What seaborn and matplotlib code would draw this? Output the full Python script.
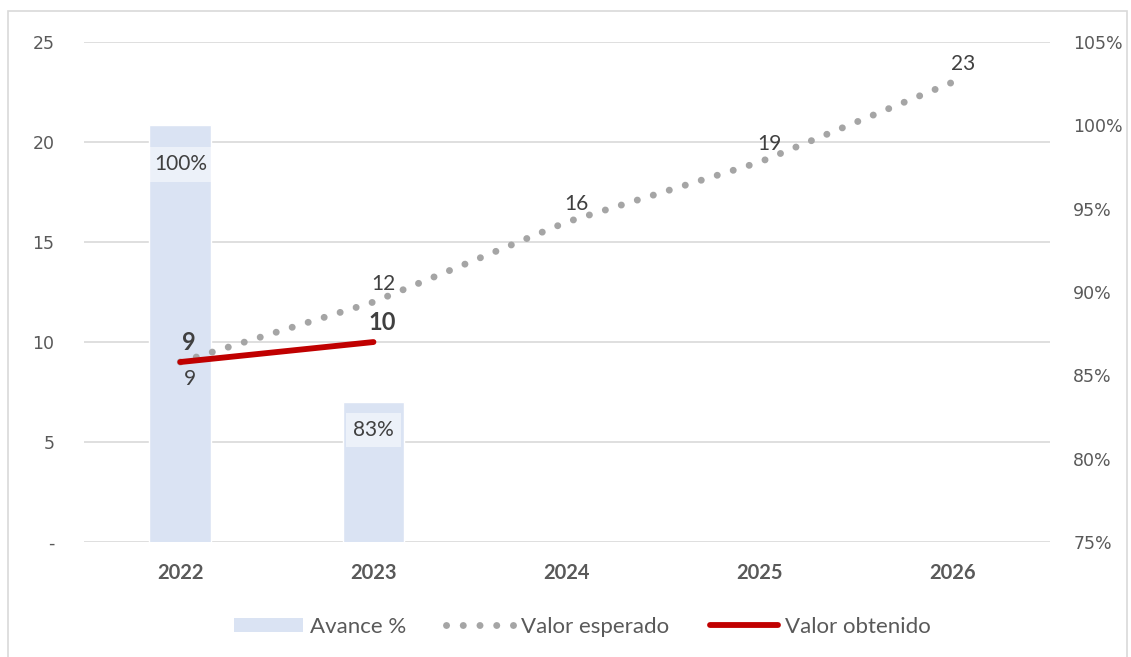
import numpy as np
import pandas as pd
import matplotlib
matplotlib.use("Agg")
import matplotlib.pyplot as plt
import seaborn as sns
from matplotlib.lines import Line2D
from matplotlib.patches import Patch, Rectangle
from matplotlib.ticker import FuncFormatter, PercentFormatter

# datos
anios = ["2022", "2023", "2024", "2025", "2026"]
valor_esperado = [9, 12, 16, 19, 23]
valor_obtenido = [9, 10]
avance = [1.00, 0.834]
etiquetas_esperado = ["9", "12", "16", "19", "23"]
etiquetas_obtenido = ["9", "10"]
etiquetas_avance = ["100%", "83%"]

sns.set_theme(style="white")
plt.rcParams["font.family"] = ["Lato", "DejaVu Sans"]

GRIS_TXT = "#595959"
AZUL_BARRA = "#dae3f3"
GRIS_LINEA = "#a5a5a5"
ROJO = "#c00000"
PUNTEADO = (0, (0.01, 2.4))

fig = plt.figure(figsize=(11.31, 6.57), dpi=100)
ax1 = fig.add_axes([0.074, 0.175, 0.854, 0.761])
ax2 = ax1.twinx()
ax3 = ax1.twinx()

# eje izquierdo (solo grilla y ticks)
ax1.set_xlim(-0.5, len(anios) - 0.5)
ax1.set_ylim(0, 25)
ax1.set_yticks(range(0, 26, 5))
ax1.yaxis.set_major_formatter(FuncFormatter(lambda v, p: "-" if v == 0 else f"{v:.0f}"))
ax1.grid(axis="y", color="#d9d9d9", linewidth=1.2)
ax1.grid(axis="x", visible=False)
ax1.set_xticks(range(len(anios)))
ax1.set_xticklabels(anios, fontweight="bold", fontsize=14.5, color=GRIS_TXT)
ax1.tick_params(axis="y", labelsize=12.5, colors=GRIS_TXT, length=0, pad=21)
ax1.tick_params(axis="x", length=0, pad=15)
for lab in ax1.get_yticklabels():
    lab.set_fontfamily("DejaVu Sans")
ax1.set_facecolor("none")

# barras de avance (eje derecho)
df_bar = pd.DataFrame({"anio": anios[:len(avance)], "avance": avance})
sns.barplot(data=df_bar, x="anio", y="avance", order=anios, color=AZUL_BARRA,
            width=0.32, saturation=1, ax=ax2)
ax2.set_ylim(0.75, 1.05)
ax2.set_xlim(-0.5, len(anios) - 0.5)
ax2.set_yticks(np.arange(0.75, 1.051, 0.05))
ax2.yaxis.set_major_formatter(PercentFormatter(1.0, decimals=0))
ax2.tick_params(axis="y", labelsize=12.5, colors=GRIS_TXT, length=0, pad=17)
for lab in ax2.get_yticklabels():
    lab.set_fontfamily("DejaVu Sans")
ax2.set_xlabel("")
ax2.set_ylabel("")
ax2.grid(False)
desplaz_avance = [-28, -20]
for i, (v, t) in enumerate(zip(avance, etiquetas_avance)):
    ax2.annotate(t, (i, v), xytext=(0, desplaz_avance[i]), textcoords="offset points",
                 ha="center", va="center", fontsize=15, color="#404040",
                 bbox=dict(boxstyle="square,pad=0.35", facecolor="white",
                           alpha=0.5, edgecolor="none"))

# lineas (mismo rango que eje izquierdo)
df_esp = pd.DataFrame({"x": np.arange(len(valor_esperado)), "y": valor_esperado})
df_obt = pd.DataFrame({"x": np.arange(len(valor_obtenido)), "y": valor_obtenido})
sns.lineplot(data=df_esp, x="x", y="y", ax=ax3, color=GRIS_LINEA, linewidth=5,
             linestyle=PUNTEADO, dash_capstyle="round")
sns.lineplot(data=df_obt, x="x", y="y", ax=ax3, color=ROJO, linewidth=4.2,
             solid_capstyle="round")
ax3.set_ylim(0, 25)
ax3.set_xlim(-0.5, len(anios) - 0.5)
ax3.set_yticks([])
ax3.set_xlabel("")
ax3.set_ylabel("")

for i, (v, t) in enumerate(zip(valor_esperado, etiquetas_esperado)):
    dy = -12 if i == 0 else 13
    ax3.annotate(t, (i, v), xytext=(7, dy), textcoords="offset points",
                 ha="center", va="center", fontsize=15, color="#404040")
for i, (v, t) in enumerate(zip(valor_obtenido, etiquetas_obtenido)):
    ax3.annotate(t, (i, v), xytext=(6, 14), textcoords="offset points",
                 ha="center", va="center", fontsize=17, fontweight="bold",
                 color="#404040")

for ax in (ax1, ax2, ax3):
    for s in ax.spines.values():
        s.set_visible(False)

# leyenda
handles = [
    Patch(facecolor=AZUL_BARRA, edgecolor="none"),
    Line2D([0], [0], color=GRIS_LINEA, linewidth=5, linestyle=PUNTEADO,
           dash_capstyle="round"),
    Line2D([0], [0], color=ROJO, linewidth=4.2, solid_capstyle="round"),
]
leg = fig.legend(handles, ["Avance %", "Valor esperado", "Valor obtenido"],
                 loc="center", bbox_to_anchor=(0.515, 0.046), ncol=3, frameon=False,
                 fontsize=16, handlelength=3.1, handleheight=0.65, columnspacing=1.8,
                 handletextpad=0.3)
for t in leg.get_texts():
    t.set_color(GRIS_TXT)

# borde del grafico
fig.patches.append(Rectangle((8 / 1131, -0.01), 1119 / 1131, 1 - 11 / 657 + 0.01,
                             transform=fig.transFigure, fill=False,
                             edgecolor="#d9d9d9", linewidth=1.2))

fig.savefig("out.png", dpi=100)
